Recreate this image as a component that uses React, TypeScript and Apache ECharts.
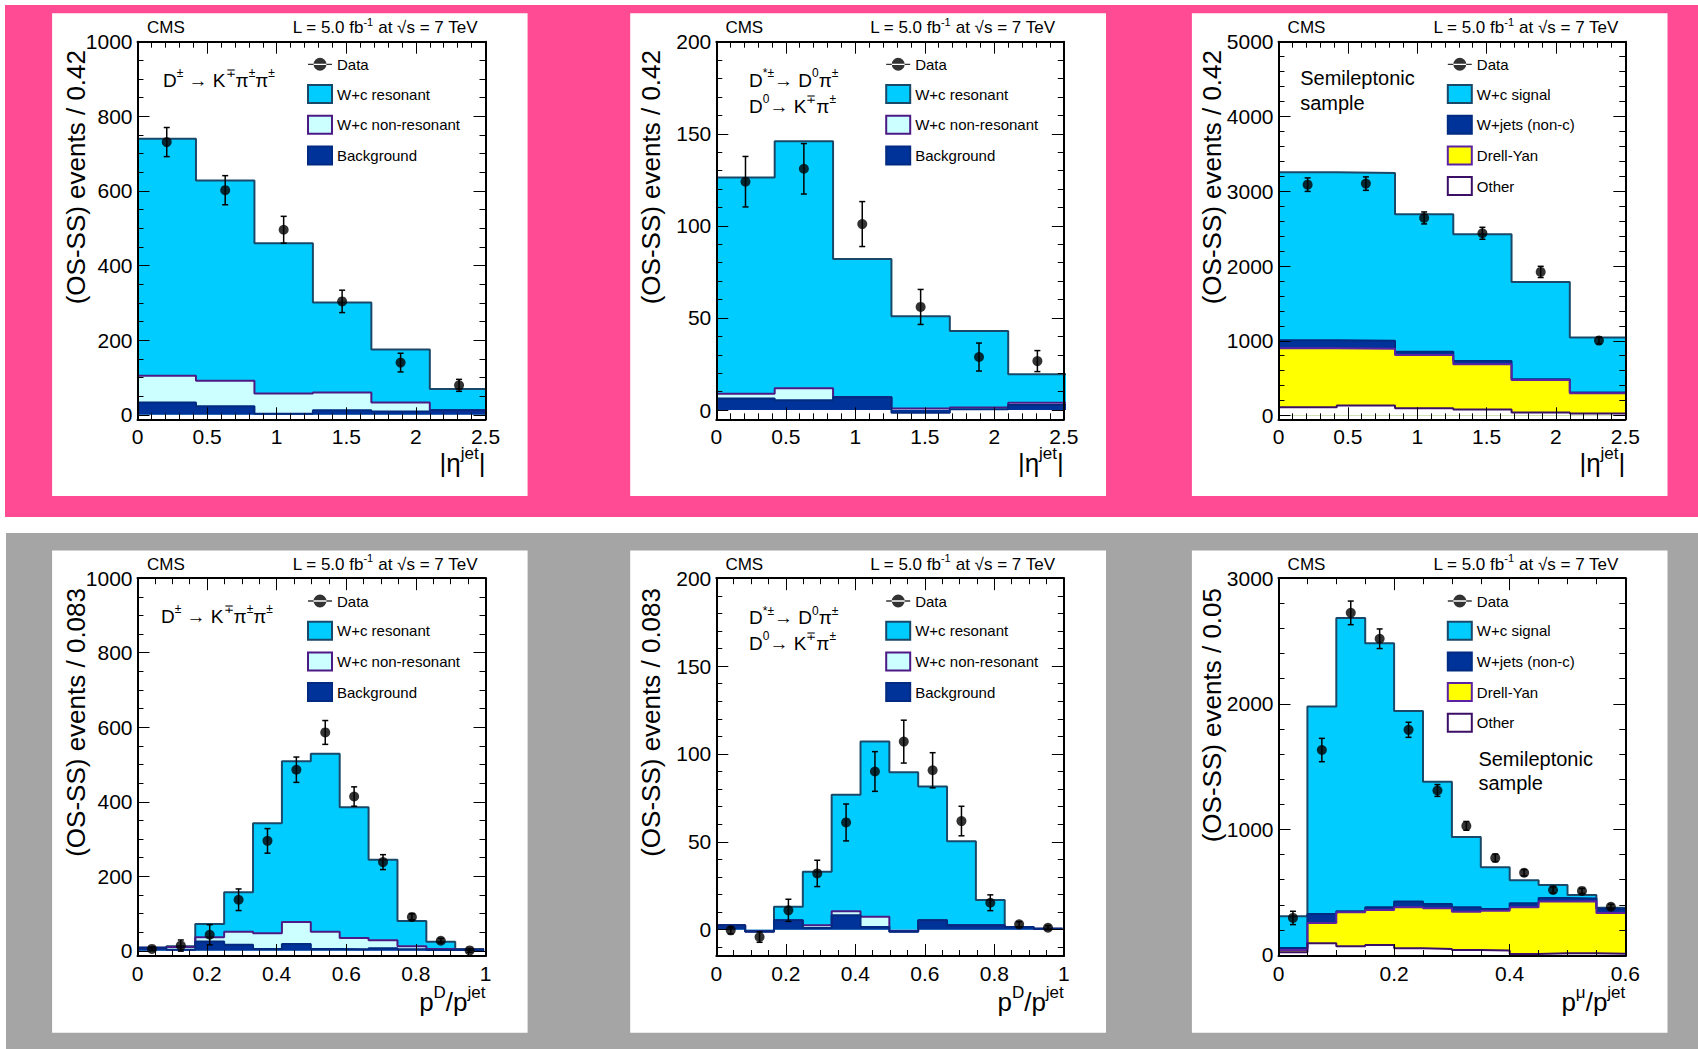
import { useEffect, useRef } from 'react';
import * as echarts from 'echarts';

const FONT = '"Liberation Sans", Arial, Helvetica, sans-serif';

// ---------- bin edges ----------
const ETA_EDGES = [0, 0.42, 0.84, 1.26, 1.68, 2.1, 2.52];
const Z_EDGES = [0, 0.083, 0.166, 0.249, 0.332, 0.415, 0.498, 0.581, 0.664, 0.747, 0.83, 0.913, 0.996];
const MU_EDGES = [0, 0.05, 0.1, 0.15, 0.2, 0.25, 0.3, 0.35, 0.4, 0.45, 0.5, 0.55, 0.6];

// ---------- D± → K∓π±π±, |η jet| ----------
const dpEtaBackground = [33, 23, 3, 12, 9, 12];
const dpEtaNonResonant = [72, 68, 54, 48, 24, 0];
const dpEtaResonant = [635, 537, 403, 241, 142, 57];
const dpEtaData = [731, 602, 496, 304, 140, 79];
const dpEtaError = [39, 39, 36, 30, 25, 16];

// ---------- D*± → D0π±, |η jet| ----------
const dsEtaBackground = [6.3, 5.4, 7, -1.5, 0.5, 2.7];
const dsEtaNonResonant = [2.6, 6.4, 0.1, 2.4, 0.9, 1.3];
const dsEtaResonant = [117.4, 134.2, 74.9, 50, 41.6, 15.4];
const dsEtaData = [124, 131, 101, 56, 28.8, 26.6];
const dsEtaError = [13.7, 13.7, 12.2, 9.5, 7.6, 5.7];

// ---------- semileptonic, |η jet| ----------
const slEtaOther = [112, 134, 99, 80, 40, 27];
const slEtaDrellYan = [789, 758, 712, 607, 437, 272];
const slEtaWjets = [107, 108, 41, 44, 10, 9];
const slEtaSignal = [2246, 2245, 1840, 1694, 1300, 735];
const slEtaData = [3088, 3102, 2643, 2438, 1921, 1003];
const slEtaError = [90, 90, 80, 80, 75, 45];

// ---------- D± → K∓π±π±, pD/pjet ----------
const dpZBackground = [8, 3, 25, 16, 5, 18, 5, 4, 7, 4, 2, 2];
const dpZNonResonant = [0, 7, 11, 35, 42, 59, 46, 30, 21, 8, 3, 1];
const dpZResonant = [0, 2, 36, 106, 295, 432, 478, 351, 216, 68, 19, 2];
const dpZData = [5, 14, 43, 137, 295, 486, 586, 414, 238, 91, 27, 1];
const dpZError = [5, 15, 27, 29, 33, 34, 32, 26, 20, 8, 6, 5];

// ---------- D*± → D0π±, pD/pjet ----------
const dsZBackground = [2.5, -1, 5.3, 1, 8.2, 1.5, -1.2, 5.3, 2.5, 2.5, 1.5, 0.5];
const dsZNonResonant = [0, 0, 0, 1.5, 2.3, 5.8, 0.2, 0, 0, 0, 0, 0];
const dsZResonant = [0, 0, 7.7, 30.5, 66.2, 99.7, 90.6, 76.2, 47.8, 14.3, 0, 0];
const dsZData = [-0.4, -4.2, 11, 32, 61, 90, 107, 90.7, 61.8, 15.3, 3, 1.1];
const dsZError = [2, 3, 6.3, 7.5, 10.5, 11.3, 12.2, 10, 8.4, 4.5, 1.5, 1.2];

// ---------- semileptonic, pμ/pjet ----------
const slMuOther = [21, 93, 69, 80, 53, 48, 40, 35, 8, 13, 13, 10];
const slMuDrellYan = [19, 162, 271, 278, 327, 324, 305, 318, 372, 412, 415, 325];
const slMuWjets = [16, 72, 8, 22, 45, 34, 35, 13, 32, 29, 22, 33];
const slMuSignal = [252, 1651, 2336, 2102, 1518, 973, 560, 332, 184, 104, 28, 8];
const slMuData = [295, 1632, 2724, 2518, 1793, 1310, 1028, 773, 655, 518, 510, 384];
const slMuError = [53, 93, 94, 78, 60, 47, 35, 30, 25, 25, 20, 20];

// ---------- styles ----------
const RESONANT = { fill: '#00CCFF', line: '#1A4869' };
const NONRES = { fill: '#CCFFFF', line: '#4C1A85' };
const BACKGROUND = { fill: '#003399', line: '#002B80' };
const DRELLYAN = { fill: '#FFFF00', line: '#5B22A6' };
const OTHER = { fill: '#FFFFFF', line: '#3B0F66' };

const DATA_ICON = 'path://M0,9.3L26,9.3L26,10.7L0,10.7Z M6,10A7,7,0,1,0,20,10A7,7,0,1,0,6,10Z';

const LUMI = '{n|L = 5.0 fb}{s|-1}{n| at √s = 7 TeV}';
// axis titles as [text, isSuperscript] pieces
const TITLE_ETA: [string, boolean][] = [['|η', false], ['jet', true], ['|', false]];
const TITLE_Z: [string, boolean][] = [['p', false], ['D', true], ['/p', false], ['jet', true]];
const TITLE_MU: [string, boolean][] = [['p', false], ['μ', true], ['/p', false], ['jet', true]];
const ANNOT_DPLUS = ['{n|D}{s|±}{n| → K}{s|∓}{n|π}{s|±}{n|π}{s|±}'];
const ANNOT_DSTAR = ['{n|D}{s|*±}{n|→ D}{s|0}{n|π}{s|±}', '{n|D}{s|0}{n|→ K}{s|∓}{n|π}{s|±}'];
const ANNOT_SEMI = ['{b|Semileptonic}', '{b|sample}'];

// ---------- layout ----------
const COLS = [
  { frameLeft: 137.5, frameWidth: 348, boxLeft: 52.1, boxRight: 527.6, cms: 147, lumiRight: 477.5, yTitleX: 75.5, legendLeft: 307 },
  { frameLeft: 716.3, frameWidth: 347.5, boxLeft: 630.2, boxRight: 1106, cms: 725.4, lumiRight: 1055, yTitleX: 650.9, legendLeft: 885.2 },
  { frameLeft: 1278.5, frameWidth: 346.8, boxLeft: 1191.9, boxRight: 1667.5, cms: 1287.6, lumiRight: 1618.3, yTitleX: 1211.5, legendLeft: 1446.8 },
];
const ROWS = [
  { frameTop: 41.7, frameHeight: 377.6, boxTop: 13.3, boxBottom: 496, header: 27.7, yTitleTop: 50, legendTop: 55.3, xTitleY: 463 },
  { frameTop: 578.2, frameHeight: 377.8, boxTop: 550.4, boxBottom: 1032.8, header: 564, yTitleTop: 588, legendTop: 592, xTitleY: 1001.5 },
];

type Layer = { name: string; values: number[]; fill: string; line: string };
type Panel = {
  col: number; row: number; edges: number[]; layers: Layer[]; data: number[]; err: number[];
  xMax: number; xInterval: number; xMinor: number;
  yMin: number; yMax: number; ySplit: number; yMinor: number;
  yTitle: string; xTitle: [string, boolean][]; annot: string[]; annotX: number; annotY: number[];
};

const dmesonLayers = (bg: number[], nr: number[], res: number[]): Layer[] => [
  { name: 'Background', values: bg, ...BACKGROUND },
  { name: 'W+c non-resonant', values: nr, ...NONRES },
  { name: 'W+c resonant', values: res, ...RESONANT },
];
const semiLayers = (oth: number[], dy: number[], wj: number[], sig: number[]): Layer[] => [
  { name: 'Other', values: oth, ...OTHER },
  { name: 'Drell-Yan', values: dy, ...DRELLYAN },
  { name: 'W+jets (non-c)', values: wj, ...BACKGROUND },
  { name: 'W+c signal', values: sig, ...RESONANT },
];

const PANELS: Panel[] = [
  { col: 0, row: 0, edges: ETA_EDGES, layers: dmesonLayers(dpEtaBackground, dpEtaNonResonant, dpEtaResonant), data: dpEtaData, err: dpEtaError,
    xMax: 2.5, xInterval: 0.5, xMinor: 5, yMin: -12, yMax: 1000, ySplit: 5, yMinor: 4,
    yTitle: '(OS-SS) events / 0.42', xTitle: TITLE_ETA, annot: ANNOT_DPLUS, annotX: 163, annotY: [80] },
  { col: 1, row: 0, edges: ETA_EDGES, layers: dmesonLayers(dsEtaBackground, dsEtaNonResonant, dsEtaResonant), data: dsEtaData, err: dsEtaError,
    xMax: 2.5, xInterval: 0.5, xMinor: 5, yMin: -5, yMax: 200, ySplit: 5, yMinor: 5,
    yTitle: '(OS-SS) events / 0.42', xTitle: TITLE_ETA, annot: ANNOT_DSTAR, annotX: 749, annotY: [80, 106] },
  { col: 2, row: 0, edges: ETA_EDGES, layers: semiLayers(slEtaOther, slEtaDrellYan, slEtaWjets, slEtaSignal), data: slEtaData, err: slEtaError,
    xMax: 2.5, xInterval: 0.5, xMinor: 5, yMin: -50, yMax: 5000, ySplit: 5, yMinor: 5,
    yTitle: '(OS-SS) events / 0.42', xTitle: TITLE_ETA, annot: ANNOT_SEMI, annotX: 1300.2, annotY: [77.7, 102.7] },
  { col: 0, row: 1, edges: Z_EDGES, layers: dmesonLayers(dpZBackground, dpZNonResonant, dpZResonant), data: dpZData, err: dpZError,
    xMax: 1, xInterval: 0.2, xMinor: 4, yMin: -14, yMax: 1000, ySplit: 5, yMinor: 4,
    yTitle: '(OS-SS) events / 0.083', xTitle: TITLE_Z, annot: ANNOT_DPLUS, annotX: 161, annotY: [616.3] },
  { col: 1, row: 1, edges: Z_EDGES, layers: dmesonLayers(dsZBackground, dsZNonResonant, dsZResonant), data: dsZData, err: dsZError,
    xMax: 1, xInterval: 0.2, xMinor: 4, yMin: -15, yMax: 200, ySplit: 5, yMinor: 5,
    yTitle: '(OS-SS) events / 0.083', xTitle: TITLE_Z, annot: ANNOT_DSTAR, annotX: 749, annotY: [617.8, 643.1] },
  { col: 2, row: 1, edges: MU_EDGES, layers: semiLayers(slMuOther, slMuDrellYan, slMuWjets, slMuSignal), data: slMuData, err: slMuError,
    xMax: 0.6, xInterval: 0.2, xMinor: 4, yMin: -8, yMax: 3000, ySplit: 3, yMinor: 5,
    yTitle: '(OS-SS) events / 0.05', xTitle: TITLE_MU, annot: ANNOT_SEMI, annotX: 1478.4, annotY: [759, 783.2] },
];

// histogram outline points for a step line that turns at the end of each bin
function stepPoints(edges: number[], vals: number[]) {
  const pts = vals.map((v, i) => [edges[i], v]);
  pts.push([edges[vals.length], vals[vals.length - 1]]);
  return pts;
}

function stackTops(layers: Layer[]) {
  let run = layers[0].values.map(() => 0);
  return layers.map((l) => {
    run = run.map((r, i) => r + l.values[i]);
    return run;
  });
}

let measureCtx: CanvasRenderingContext2D | null = null;
function textWidth(t: string, size: number) {
  if (!measureCtx) measureCtx = document.createElement('canvas').getContext('2d');
  if (!measureCtx) return t.length * size * 0.55;
  measureCtx.font = `${size}px ${FONT}`;
  return measureCtx.measureText(t).width;
}

// right-aligned axis title built from normal and raised pieces
function axisTitle(pieces: [string, boolean][], right: number, y: number) {
  const MAIN = 26, SUP = 17;
  const widths = pieces.map(([t, sup]) => textWidth(t, sup ? SUP : MAIN));
  let x = right - widths.reduce((a, b) => a + b, 0);
  return pieces.map(([t, sup], i) => {
    const el = {
      type: 'text', z: 20, x, y: sup ? y - 9.5 : y,
      style: { text: t, fontSize: sup ? SUP : MAIN, fontFamily: FONT, fill: '#000', align: 'left', verticalAlign: 'middle' },
    };
    x += widths[i];
    return el;
  });
}

function buildOption() {
  const grid: any[] = [];
  const xAxis: any[] = [];
  const yAxis: any[] = [];
  const series: any[] = [];
  const legend: any[] = [];
  const graphic: any[] = [];

  // page backgrounds
  graphic.push({ type: 'rect', z: -10, shape: { x: 5, y: 5, width: 1693, height: 512 }, style: { fill: '#FF4B93' } });
  graphic.push({ type: 'rect', z: -10, shape: { x: 6, y: 533, width: 1692, height: 516 }, style: { fill: '#A5A5A5' } });

  const tickLine = { color: '#000', width: 1 };
  const headRich = {
    n: { fontSize: 17, fontFamily: FONT, fill: '#000' },
    s: { fontSize: 11, fontFamily: FONT, fill: '#000', padding: [0, 0, 12, 0] },
  };
  const annotRich = {
    n: { fontSize: 19, fontFamily: FONT, fill: '#000' },
    s: { fontSize: 12, fontFamily: FONT, fill: '#000', padding: [0, 0, 14, 0] },
    b: { fontSize: 20, fontFamily: FONT, fill: '#000' },
  };

  PANELS.forEach((p, idx) => {
    const c = COLS[p.col];
    const r = ROWS[p.row];
    graphic.push({ type: 'rect', z: -9, shape: { x: c.boxLeft, y: r.boxTop, width: c.boxRight - c.boxLeft, height: r.boxBottom - r.boxTop }, style: { fill: '#FFFFFF' } });

    grid.push({ left: c.frameLeft, top: r.frameTop, width: c.frameWidth, height: r.frameHeight, containLabel: false });

    const xBase = {
      type: 'value', gridIndex: idx, min: 0, max: p.xMax, interval: p.xInterval, z: 10,
      axisLine: { show: true, onZero: false, lineStyle: { color: '#000', width: 2 } },
      axisTick: { show: true, inside: true, length: 12, lineStyle: tickLine },
      minorTick: { show: true, splitNumber: p.xMinor, length: 6, lineStyle: tickLine },
      splitLine: { show: false }, minorSplitLine: { show: false },
    };
    xAxis.push({ ...xBase, position: 'bottom', axisLabel: { show: true, margin: 7, fontSize: 21, fontFamily: FONT, color: '#000' } });
    xAxis.push({ ...xBase, position: 'top', axisLabel: { show: false } });

    const yBase = {
      type: 'value', gridIndex: idx, min: p.yMin, max: p.yMax, splitNumber: p.ySplit, z: 10,
      axisLine: { show: true, onZero: false, lineStyle: { color: '#000', width: 2 } },
      axisTick: { show: true, inside: true, length: 12, lineStyle: tickLine },
      minorTick: { show: true, splitNumber: p.yMinor, length: 6, lineStyle: tickLine },
      splitLine: { show: false }, minorSplitLine: { show: false },
    };
    yAxis.push({
      ...yBase, position: 'left',
      axisLabel: { show: true, margin: 5, fontSize: 21, fontFamily: FONT, color: '#000', showMinLabel: p.yMin === 0, formatter: (v: number) => String(v) },
    });
    yAxis.push({ ...yBase, position: 'right', axisLabel: { show: false } });

    const ax = idx * 2;
    // stacked histograms: the full sum first, each lower partial sum painted over it
    const tops = stackTops(p.layers);
    for (let i = p.layers.length - 1; i >= 0; i--) {
      const l = p.layers[i];
      series.push({
        type: 'line', name: l.name, xAxisIndex: ax, yAxisIndex: ax,
        data: stepPoints(p.edges, tops[i]), step: 'end', symbol: 'none', showSymbol: false,
        lineStyle: { color: l.line, width: 2 }, itemStyle: { color: l.fill },
        areaStyle: { color: l.fill, opacity: 1 }, silent: true, z: 2, clip: true,
      });
    }

    const centers = p.data.map((_, i) => (p.edges[i] + p.edges[i + 1]) / 2);
    series.push({
      type: 'custom', name: 'Data uncertainty', xAxisIndex: ax, yAxisIndex: ax, z: 5, silent: true,
      data: centers.map((x, i) => [x, p.data[i], p.err[i]]),
      encode: { x: 0, y: 1 },
      renderItem: (_params: any, api: any) => {
        const x = api.value(0), y = api.value(1), e = api.value(2);
        const hi = api.coord([x, y + e]);
        const lo = api.coord([x, y - e]);
        const st = { stroke: '#000', lineWidth: 1.5 };
        return {
          type: 'group', children: [
            { type: 'line', shape: { x1: hi[0], y1: hi[1], x2: lo[0], y2: lo[1] }, style: st },
            { type: 'line', shape: { x1: hi[0] - 3, y1: hi[1], x2: hi[0] + 3, y2: hi[1] }, style: st },
            { type: 'line', shape: { x1: lo[0] - 3, y1: lo[1], x2: lo[0] + 3, y2: lo[1] }, style: st },
          ],
        };
      },
    });
    series.push({
      type: 'scatter', name: 'Data', xAxisIndex: ax, yAxisIndex: ax, z: 6, silent: true,
      symbol: 'circle', symbolSize: 10, itemStyle: { color: '#000' },
      data: centers.map((x, i) => [x, p.data[i]]),
    });

    legend.push({
      show: true, orient: 'vertical', left: c.legendLeft, top: r.legendTop, padding: 0,
      itemWidth: 24, itemHeight: 18, itemGap: 10.7, selectedMode: false,
      textStyle: { fontSize: 15, fontFamily: FONT, color: '#000', lineHeight: 18 },
      data: [
        { name: 'Data', icon: DATA_ICON, itemStyle: { color: '#000', borderWidth: 0 } },
        ...p.layers.slice().reverse().map((l) => ({
          name: l.name, icon: 'rect', itemStyle: { color: l.fill, borderColor: l.line, borderWidth: 2 },
        })),
      ],
    });

    // header, titles and channel label
    graphic.push({ type: 'text', z: 20, x: c.cms, y: r.header, style: { text: 'CMS', fontSize: 17, fontFamily: FONT, fill: '#000', align: 'left', verticalAlign: 'middle' } });
    graphic.push({ type: 'text', z: 20, x: c.lumiRight, y: r.header, style: { text: LUMI, rich: headRich, fontSize: 17, fontFamily: FONT, fill: '#000', align: 'right', verticalAlign: 'middle' } });
    graphic.push({ type: 'text', z: 20, x: c.yTitleX, y: r.yTitleTop, rotation: Math.PI / 2, style: { text: p.yTitle, fontSize: 26, fontFamily: FONT, fill: '#000', align: 'right', verticalAlign: 'middle' } });
    graphic.push(...axisTitle(p.xTitle, c.frameLeft + c.frameWidth, r.xTitleY));
    p.annot.forEach((t, k) => {
      graphic.push({ type: 'text', z: 20, x: p.annotX, y: p.annotY[k], style: { text: t, rich: annotRich, fontSize: 19, fontFamily: FONT, fill: '#000', align: 'left', verticalAlign: 'middle' } });
    });
  });

  return {
    animation: false,
    backgroundColor: '#FFFFFF',
    textStyle: { fontFamily: FONT },
    grid, xAxis, yAxis, series, legend, graphic,
  };
}

export default function App() {
  const ref = useRef<HTMLDivElement>(null);
  useEffect(() => {
    const chart = echarts.init(ref.current as HTMLDivElement, null, { renderer: 'svg' });
    chart.setOption(buildOption() as any);
    return () => chart.dispose();
  }, []);
  return <div ref={ref} style={{ position: 'absolute', left: 0, top: 0, width: 1698, height: 1049 }} />;
}
